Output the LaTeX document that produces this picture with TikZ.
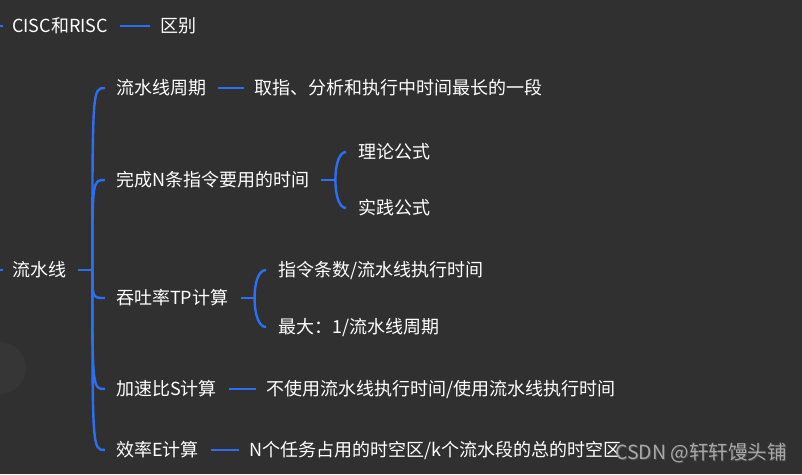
\documentclass[tikz,border=0pt]{standalone}
\usepackage{fontspec}
\newfontfamily\cjk{Noto Sans CJK SC}
\usetikzlibrary{positioning,calc}
\definecolor{mapbg}{HTML}{303030}
\definecolor{mapblue}{HTML}{2C6FF2}
\definecolor{marktext}{HTML}{A8A8A8}

\begin{document}
\begin{tikzpicture}[x=1pt,y=-1pt,
  every node/.style={inner sep=0pt,anchor=west,text=white,
    font=\cjk\fontsize{18}{20}\selectfont,text height=15.8pt,text depth=2.2pt},
  link/.style={draw=mapblue,line width=2.8pt},
  branch/.style={draw=mapblue,line width=2.4pt}]
\useasboundingbox (0,0) rectangle (802,474);
\fill[mapbg] (0,0) rectangle (802,474);
\begin{scope}
\clip (0,0) rectangle (802,474);
\fill[white!3!mapbg] (0,368) circle (26);
\end{scope}

\path
(12,26) node(cisc){CISC和RISC} (160,26) node(diff){区别}
(12,270) node(pipe){流水线}
(116,88) node(period){流水线周期} (254,88) node(periodnote){取指、分析和执行中时间最长的一段}
(116,180) node(ntime){完成N条指令要用的时间}
(358,152) node(theory){理论公式} (358,208) node(practice){实践公式}
(116,298) node(tp){吞吐率TP计算}
(278,270) node(tpavg){指令条数/流水线执行时间} (278,327) node(tpmax){最大：1/流水线周期}
(116,389) node(speed){加速比S计算} (266,389) node(speednote){不使用流水线执行时间/使用流水线执行时间}
(116,450) node(eff){效率E计算} (249,450) node(effnote){N个任务占用的时空区/k个流水段的总的时空区};

% stubs from the parent off the left edge
\coordinate (cin) at (0,26);
\coordinate (pin) at (0,270);
\draw[link] (cin) -- ([xshift=-9]cisc.west);
\draw[link] (pin) -- ([xshift=-9]pipe.west);

\foreach \a/\b in {cisc/diff,period/periodnote,speed/speednote,eff/effnote}
  \draw[link] ([xshift=12]\a.east) -- ([xshift=-10]\b.west);

\draw[link] ([xshift=12]pipe.east) -- ++(14,0) coordinate(pj);
\foreach \c in {period,ntime,tp,speed,eff}
  \draw[branch] (pj) .. controls (pj |- \c.west) .. ([xshift=-11]\c.west);

% round brackets for the two small groups
\draw[link] ([xshift=12]ntime.east) -- ++(14,0) coordinate(nj);
\foreach \c in {theory,practice}
  \draw[branch] (nj) .. controls ($(nj)!0.6!(nj |- \c.west)$)
    and ($([xshift=-12]\c.west)!0.6!(nj |- \c.west)$) .. ([xshift=-12]\c.west);

\draw[link] ([xshift=12]tp.east) -- ++(14,0) coordinate(tj);
\foreach \c in {tpavg,tpmax}
  \draw[branch] (tj) .. controls ($(tj)!0.6!(tj |- \c.west)$)
    and ($([xshift=-12]\c.west)!0.6!(tj |- \c.west)$) .. ([xshift=-12]\c.west);

\node[text=black!70,font=\cjk\fontsize{19.5}{21}\selectfont] (wmshade) at (616,454) {CSDN @轩轩馒头铺};
\node[text=marktext,font=\cjk\fontsize{19.5}{21}\selectfont] (wm) at (615,453) {CSDN @轩轩馒头铺};
\end{tikzpicture}
\end{document}
